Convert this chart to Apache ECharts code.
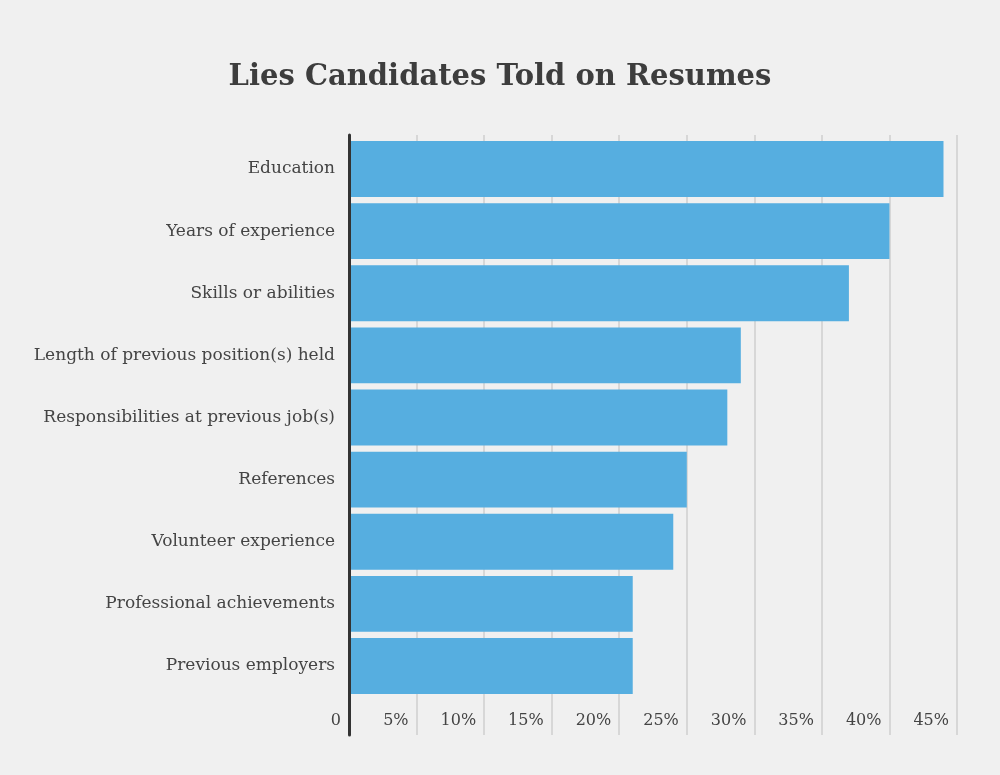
<!DOCTYPE html>
<html><head><meta charset="utf-8">
<script src="https://cdn.jsdelivr.net/npm/echarts@6/dist/echarts.min.js"></script>
<style>html,body{margin:0;background:#f0f0f0}#chart{width:1000px;height:775px}</style>
</head><body><div id="chart"></div>
<script>
let categories = ['Education','Years of experience','Skills or abilities','Length of previous position(s) held',
  'Responsibilities at previous job(s)','References','Volunteer experience','Professional achievements','Previous employers'];
let values = [44,40,37,29,28,25,24,21,21];
let ticks = [0,5,10,15,20,25,30,35,40,45];

let myChart = echarts.init(document.getElementById('chart'));
let font = '"DejaVu Serif", "Liberation Serif", serif';
let option = {
  backgroundColor:'#f0f0f0',
  textStyle:{fontFamily:font},
  title:{
    text:'Lies Candidates Told on Resumes', left:'center', top:58,
    textStyle:{fontFamily:font,fontSize:29,fontWeight:'bold',color:'#3d3d3d'}
  },
  grid:[
    {left:349,right:43,top:138,bottom:78},
    {left:349,right:43,top:135,bottom:40}
  ],
  xAxis:[{
    gridIndex:0, type:'value', min:0, max:45, interval:5, show:false
  },{
    gridIndex:1, type:'value', min:0, max:45, interval:5,
    axisLine:{show:false}, axisTick:{show:false},
    splitLine:{lineStyle:{color:'#cfcfcf',width:1.5}},
    axisLabel:{
      margin:-22, align:'right', padding:[0,8,0,0],
      color:'#444', fontSize:16, fontFamily:font,
      formatter:(v)=>ticks.includes(v)?(v==0?'0':v+'%'):''
    }
  }],
  yAxis:[{
    gridIndex:0, type:'category', data:categories, inverse:true,
    axisLine:{show:false}, axisTick:{show:false},
    axisLabel:{color:'#444',fontSize:17,margin:14,fontFamily:font}
  },{
    gridIndex:1, type:'value', min:0, max:1, z:10,
    axisLine:{show:true,lineStyle:{color:'#333',width:3}}, axisTick:{show:false},
    axisLabel:{show:false}, splitLine:{show:false}
  }],
  series:[{
    type:'bar', data:values, barCategoryGap:'10%', xAxisIndex:0, yAxisIndex:0,
    itemStyle:{color:'#56aee0'}, z:3
  }]
};
myChart.setOption(option);
</script></body></html>
